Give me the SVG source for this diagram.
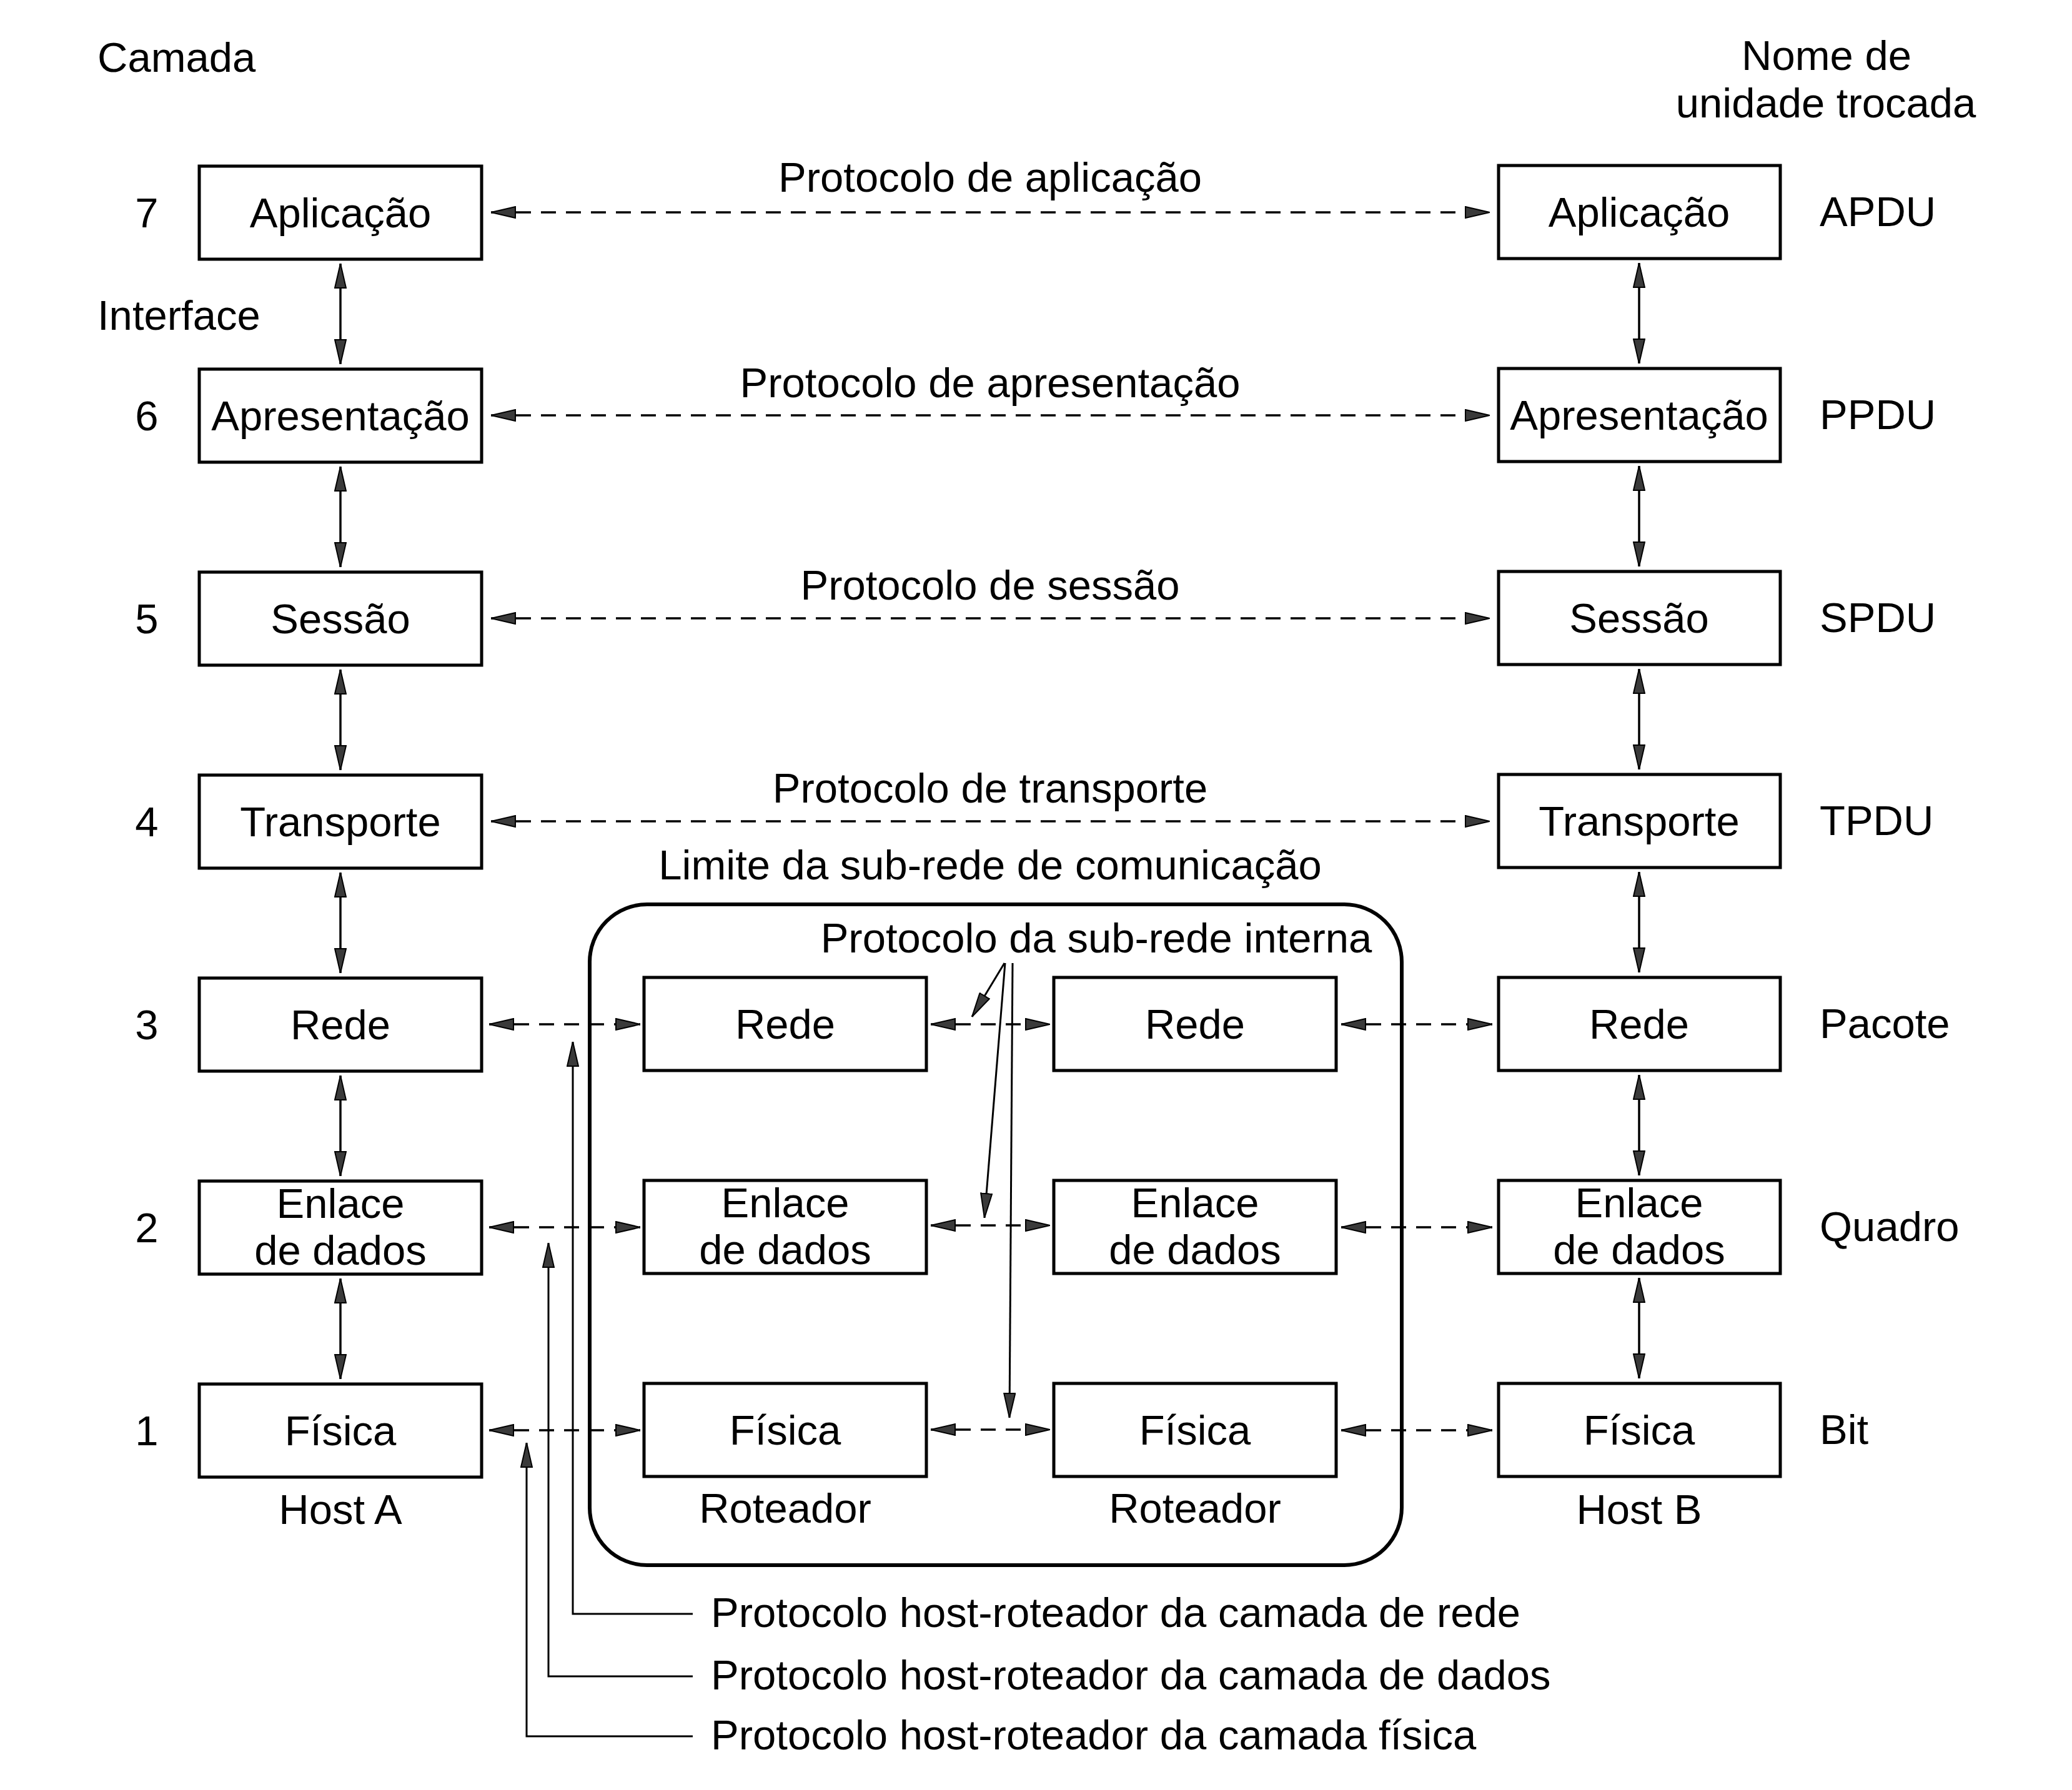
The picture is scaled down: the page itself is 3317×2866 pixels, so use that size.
<svg xmlns="http://www.w3.org/2000/svg" width="3317" height="2866" viewBox="0 0 3317 2866">
<style>
text{font-family:"Liberation Sans",Arial,sans-serif;font-size:67px;fill:#000}
.c{text-anchor:middle}
.box{fill:#fff;stroke:#000;stroke-width:5}
.d{fill:none;stroke:#000;stroke-width:3.5;stroke-dasharray:24 16}
.s{fill:none;stroke:#000;stroke-width:3.5}
.t{fill:none;stroke:#000;stroke-width:3}
</style>
<defs>
<marker id="ah" viewBox="0 0 40 20" markerWidth="40" markerHeight="20" refX="40" refY="10" orient="auto-start-reverse" markerUnits="userSpaceOnUse">
<path d="M1,1 L40,10 L1,19 z" fill="#3a3a3a" stroke="#000" stroke-width="2" stroke-dasharray="none"/>
</marker>
</defs>
<rect width="3317" height="2866" fill="#fff"/>

<g id="headers">
<text x="156" y="115">Camada</text>
<text x="156" y="528">Interface</text>
<text class="c" x="2924" y="112">Nome de</text>
<text class="c" x="2923" y="188">unidade trocada</text>
<text class="c" x="235" y="364">7</text>
<text class="c" x="235" y="689">6</text>
<text class="c" x="235" y="1014">5</text>
<text class="c" x="235" y="1339">4</text>
<text class="c" x="235" y="1664">3</text>
<text class="c" x="235" y="1989">2</text>
<text class="c" x="235" y="2314">1</text>
<text x="2913" y="362">APDU</text>
<text x="2913" y="687">PPDU</text>
<text x="2913" y="1012">SPDU</text>
<text x="2913" y="1337">TPDU</text>
<text x="2913" y="1662">Pacote</text>
<text x="2913" y="1987">Quadro</text>
<text x="2913" y="2312">Bit</text>
<text class="c" x="545" y="2440">Host A</text>
<text class="c" x="1257" y="2438">Roteador</text>
<text class="c" x="1913" y="2438">Roteador</text>
<text class="c" x="2624" y="2440">Host B</text>
</g>

<g id="subnet">
<rect x="944" y="1448" width="1300" height="1058" rx="92" ry="92" fill="none" stroke="#000" stroke-width="6"/>
<text class="c" x="1585" y="1408">Limite da sub-rede de comunicação</text>
<text class="c" x="1755" y="1525">Protocolo da sub-rede interna</text>
</g>

<g id="hostA">
<g id="a7"><rect class="box" x="319" y="266" width="452" height="149"/><text class="c" x="545" y="364">Aplicação</text></g>
<g id="a6"><rect class="box" x="319" y="591" width="452" height="149"/><text class="c" x="545" y="689">Apresentação</text></g>
<g id="a5"><rect class="box" x="319" y="916" width="452" height="149"/><text class="c" x="545" y="1014">Sessão</text></g>
<g id="a4"><rect class="box" x="319" y="1241" width="452" height="149"/><text class="c" x="545" y="1339">Transporte</text></g>
<g id="a3"><rect class="box" x="319" y="1566" width="452" height="149"/><text class="c" x="545" y="1664">Rede</text></g>
<g id="a2"><rect class="box" x="319" y="1891" width="452" height="149"/><text class="c" x="545" y="1950">Enlace</text><text class="c" x="545" y="2025">de dados</text></g>
<g id="a1"><rect class="box" x="319" y="2216" width="452" height="149"/><text class="c" x="545" y="2314">Física</text></g>
</g>

<g id="router1">
<g id="r1n3"><rect class="box" x="1031" y="1565" width="452" height="149"/><text class="c" x="1257" y="1663">Rede</text></g>
<g id="r1n2"><rect class="box" x="1031" y="1890" width="452" height="149"/><text class="c" x="1257" y="1949">Enlace</text><text class="c" x="1257" y="2024">de dados</text></g>
<g id="r1n1"><rect class="box" x="1031" y="2215" width="452" height="149"/><text class="c" x="1257" y="2313">Física</text></g>
</g>

<g id="router2">
<g id="r2n3"><rect class="box" x="1687" y="1565" width="452" height="149"/><text class="c" x="1913" y="1663">Rede</text></g>
<g id="r2n2"><rect class="box" x="1687" y="1890" width="452" height="149"/><text class="c" x="1913" y="1949">Enlace</text><text class="c" x="1913" y="2024">de dados</text></g>
<g id="r2n1"><rect class="box" x="1687" y="2215" width="452" height="149"/><text class="c" x="1913" y="2313">Física</text></g>
</g>

<g id="hostB">
<g id="b7"><rect class="box" x="2399" y="265" width="451" height="149"/><text class="c" x="2624" y="363">Aplicação</text></g>
<g id="b6"><rect class="box" x="2399" y="590" width="451" height="149"/><text class="c" x="2624" y="688">Apresentação</text></g>
<g id="b5"><rect class="box" x="2399" y="915" width="451" height="149"/><text class="c" x="2624" y="1013">Sessão</text></g>
<g id="b4"><rect class="box" x="2399" y="1240" width="451" height="149"/><text class="c" x="2624" y="1338">Transporte</text></g>
<g id="b3"><rect class="box" x="2399" y="1565" width="451" height="149"/><text class="c" x="2624" y="1663">Rede</text></g>
<g id="b2"><rect class="box" x="2399" y="1890" width="451" height="149"/><text class="c" x="2624" y="1949">Enlace</text><text class="c" x="2624" y="2024">de dados</text></g>
<g id="b1"><rect class="box" x="2399" y="2215" width="451" height="149"/><text class="c" x="2624" y="2313">Física</text></g>
</g>

<g id="connectors">
<path class="d" d="M786,340 H2385" marker-start="url(#ah)" marker-end="url(#ah)"/>
<path class="d" d="M786,665 H2385" marker-start="url(#ah)" marker-end="url(#ah)"/>
<path class="d" d="M786,990 H2385" marker-start="url(#ah)" marker-end="url(#ah)"/>
<path class="d" d="M786,1315 H2385" marker-start="url(#ah)" marker-end="url(#ah)"/>
<text class="c" x="1585" y="307">Protocolo de aplicação</text>
<text class="c" x="1585" y="636">Protocolo de apresentação</text>
<text class="c" x="1585" y="960">Protocolo de sessão</text>
<text class="c" x="1585" y="1285">Protocolo de transporte</text>

<path class="d" d="M783,1640 H1025" marker-start="url(#ah)" marker-end="url(#ah)"/>
<path class="d" d="M783,1965 H1025" marker-start="url(#ah)" marker-end="url(#ah)"/>
<path class="d" d="M783,2290 H1025" marker-start="url(#ah)" marker-end="url(#ah)"/>
<path class="d" d="M1490,1640 H1681" marker-start="url(#ah)" marker-end="url(#ah)"/>
<path class="d" d="M1490,1962 H1681" marker-start="url(#ah)" marker-end="url(#ah)"/>
<path class="d" d="M1490,2289 H1681" marker-start="url(#ah)" marker-end="url(#ah)"/>
<path class="d" d="M2147,1640 H2389" marker-start="url(#ah)" marker-end="url(#ah)"/>
<path class="d" d="M2147,1965 H2389" marker-start="url(#ah)" marker-end="url(#ah)"/>
<path class="d" d="M2147,2290 H2389" marker-start="url(#ah)" marker-end="url(#ah)"/>

<path class="s" d="M545,422 V583" marker-start="url(#ah)" marker-end="url(#ah)"/>
<path class="s" d="M545,747 V908" marker-start="url(#ah)" marker-end="url(#ah)"/>
<path class="s" d="M545,1072 V1233" marker-start="url(#ah)" marker-end="url(#ah)"/>
<path class="s" d="M545,1397 V1558" marker-start="url(#ah)" marker-end="url(#ah)"/>
<path class="s" d="M545,1722 V1883" marker-start="url(#ah)" marker-end="url(#ah)"/>
<path class="s" d="M545,2047 V2208" marker-start="url(#ah)" marker-end="url(#ah)"/>
<path class="s" d="M2624,421 V582" marker-start="url(#ah)" marker-end="url(#ah)"/>
<path class="s" d="M2624,746 V907" marker-start="url(#ah)" marker-end="url(#ah)"/>
<path class="s" d="M2624,1071 V1232" marker-start="url(#ah)" marker-end="url(#ah)"/>
<path class="s" d="M2624,1396 V1557" marker-start="url(#ah)" marker-end="url(#ah)"/>
<path class="s" d="M2624,1721 V1882" marker-start="url(#ah)" marker-end="url(#ah)"/>
<path class="s" d="M2624,2046 V2207" marker-start="url(#ah)" marker-end="url(#ah)"/>

<path class="t" d="M1608,1542 L1556,1628" marker-end="url(#ah)"/>
<path class="t" d="M1609,1542 L1576,1950" marker-end="url(#ah)"/>
<path class="t" d="M1621,1542 L1616,2270" marker-end="url(#ah)"/>

<path class="t" d="M1109,2584 H917 V1668" marker-end="url(#ah)"/>
<path class="t" d="M1109,2684 H878 V1990" marker-end="url(#ah)"/>
<path class="t" d="M1109,2780 H843 V2310" marker-end="url(#ah)"/>
<text x="1138" y="2605">Protocolo host-roteador da camada de rede</text>
<text x="1138" y="2705">Protocolo host-roteador da camada de dados</text>
<text x="1138" y="2801">Protocolo host-roteador da camada física</text>
</g>
</svg>
